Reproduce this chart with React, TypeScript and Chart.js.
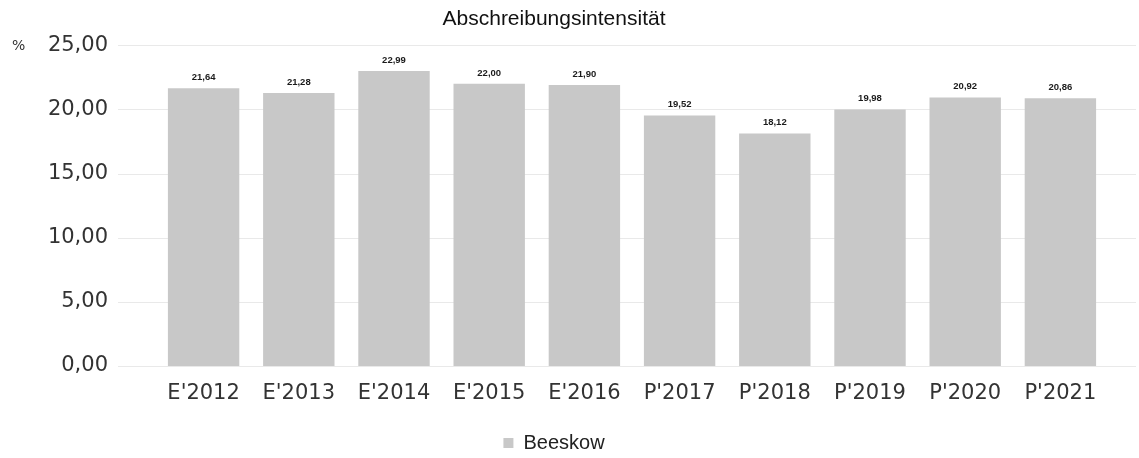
import React, { useEffect, useRef } from "react";
import { Chart, registerables } from "chart.js";

Chart.register(...registerables);

const TITLE = "Abschreibungsintensität";
const SERIES_NAME = "Beeskow";
const CATEGORIES = ["E'2012", "E'2013", "E'2014", "E'2015", "E'2016", "P'2017", "P'2018", "P'2019", "P'2020", "P'2021"];
const VALUES = [21.64, 21.28, 22.99, 22.0, 21.9, 19.52, 18.12, 19.98, 20.92, 20.86];
const Y_MIN = 0;
const Y_MAX = 25;
const Y_STEP = 5;
const Y_UNIT = "%";

const fmt = (v: number) => v.toFixed(2).replace(".", ",");

const gridPlugin = {
  id: "extGrid",
  beforeDatasetsDraw(chart: any) {
    const ctx = chart.ctx;
    const y = chart.scales.y;
    ctx.save();
    ctx.strokeStyle = "#e9e9e9";
    ctx.lineWidth = 1;
    y.ticks.forEach((t: any) => {
      const py = Math.round(y.getPixelForValue(t.value)) + 0.5;
      ctx.beginPath();
      ctx.moveTo(118, py);
      ctx.lineTo(1136, py);
      ctx.stroke();
    });
    ctx.restore();
  },
};

const labelPlugin = {
  id: "valueLabels",
  afterDatasetsDraw(chart: any) {
    const ctx = chart.ctx;
    const meta = chart.getDatasetMeta(0);
    ctx.save();
    ctx.font = "bold 9.5px 'Liberation Sans', Arial, sans-serif";
    ctx.fillStyle = "#1a1a1a";
    ctx.textAlign = "center";
    ctx.textBaseline = "bottom";
    meta.data.forEach((bar: any, i: number) => {
      ctx.fillText(fmt(VALUES[i]), bar.x, bar.y - 6);
    });
    const y = chart.scales.y;
    ctx.font = "14px 'DejaVu Sans', sans-serif";
    ctx.fillStyle = "#333";
    ctx.textAlign = "left";
    ctx.textBaseline = "middle";
    ctx.fillText(Y_UNIT, 12, y.getPixelForValue(Y_MAX) + 1);
    ctx.restore();
  },
};

export default function App() {
  const ref = useRef<HTMLCanvasElement | null>(null);
  useEffect(() => {
    if (!ref.current) return;
    const chart = new Chart(ref.current, {
      type: "bar",
      data: {
        labels: CATEGORIES,
        datasets: [
          {
            label: SERIES_NAME,
            data: VALUES,
            backgroundColor: "#c8c8c8",
            borderWidth: 0,
            barPercentage: 0.75,
            categoryPercentage: 1,
          },
        ],
      },
      options: {
        animation: false,
        responsive: false,
        maintainAspectRatio: false,
        layout: { padding: { left: 0, right: 31, top: 0, bottom: -5 } },
        plugins: {
          title: {
            display: true,
            text: TITLE,
            color: "#111",
            font: { family: "'Liberation Sans', Arial, sans-serif", size: 21, weight: "normal" },
            padding: { top: 7, bottom: 13 },
          },
          legend: {
            display: true,
            position: "bottom",
            labels: {
              color: "#222",
              font: { family: "'Liberation Sans', Arial, sans-serif", size: 20 },
              boxWidth: 10,
              boxHeight: 10,
              padding: 6,
            },
          },
          tooltip: { enabled: false },
        },
        scales: {
          x: {
            grid: { display: false, drawTicks: false },
            border: { display: false },
            ticks: {
              color: "#333",
              font: { family: "'DejaVu Sans', Verdana, sans-serif", size: 21 },
              padding: 15,
              maxRotation: 0,
              autoSkip: false,
            },
            afterFit: (s: any) => {
              s.height = 61;
            },
          },
          y: {
            min: Y_MIN,
            max: Y_MAX,
            grid: { display: false, drawTicks: false },
            border: { display: false },
            ticks: {
              stepSize: Y_STEP,
              color: "#333",
              font: { family: "'DejaVu Sans', Verdana, sans-serif", size: 21 },
              padding: 48,
              callback: (v: any) => fmt(Number(v)),
            },
            afterFit: (s: any) => {
              s.width = 156;
              s.paddingTop = 0;
              s.paddingBottom = 0;
            },
          },
        },
      },
      plugins: [gridPlugin, labelPlugin],
    });
    return () => chart.destroy();
  }, []);
  return (
    <div style={{ position: "fixed", left: 0, top: 0, width: 1139, height: 458, background: "#fff" }}>
      <canvas ref={ref} width={1139} height={458} style={{ width: 1139, height: 458, display: "block" }} />
    </div>
  );
}
